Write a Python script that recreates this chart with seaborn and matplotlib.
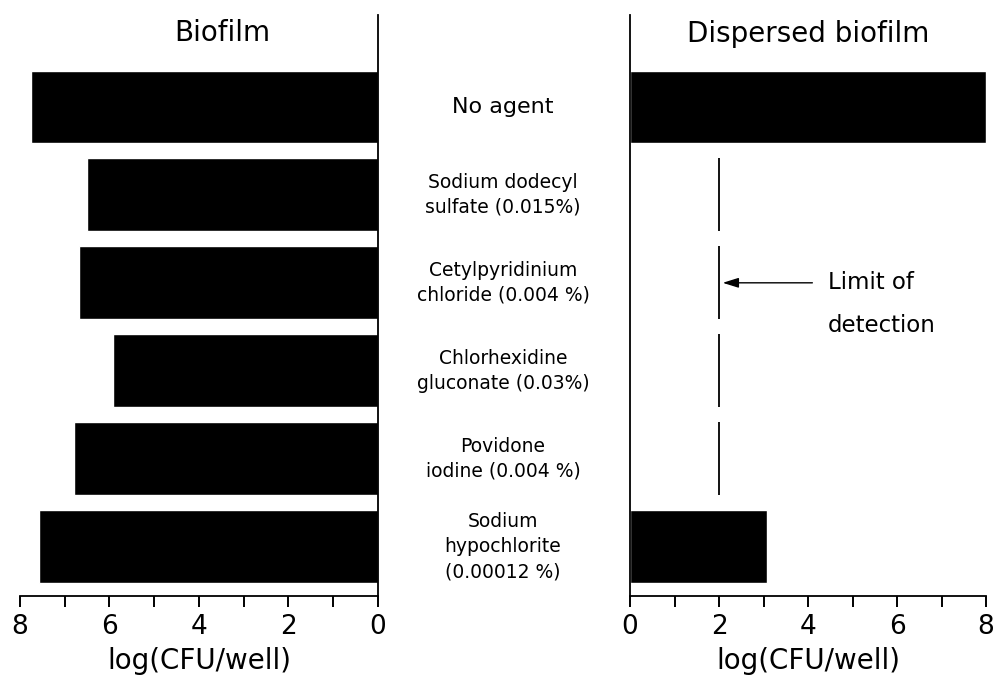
import matplotlib
matplotlib.use("Agg")
import matplotlib.pyplot as plt
import seaborn as sns
import numpy as np
import pandas as pd

agents = ["No agent",
          "Sodium dodecyl\nsulfate (0.015%)",
          "Cetylpyridinium\nchloride (0.004 %)",
          "Chlorhexidine\ngluconate (0.03%)",
          "Povidone\niodine (0.004 %)",
          "Sodium\nhypochlorite\n(0.00012 %)"]
biofilm = [7.75, 6.5, 6.68, 5.92, 6.8, 7.58]
dispersed = [8.0, 0.0, 0.0, 0.0, 0.0, 3.08]
detection_limit = [np.nan, 2.0, 2.0, 2.0, 2.0, np.nan]
xticks = [0, 2, 4, 6, 8]

sns.set_theme(style="white")
plt.rcParams['font.family'] = ['DejaVu Sans']
plt.rcParams['text.color'] = 'black'
plt.rcParams['axes.labelcolor'] = 'black'
plt.rcParams['xtick.color'] = 'black'

df = pd.DataFrame({"agent": agents, "biofilm": biofilm, "dispersed": dispersed})

fig = plt.figure(figsize=(9.98, 6.91), dpi=100)
ax1 = fig.add_axes([0.02, 0.1375, 0.3587, 0.8408])
ax2 = fig.add_axes([0.6313, 0.1375, 0.3567, 0.8408])

sns.barplot(data=df, y="agent", x="biofilm", orient="h", color="black",
            width=0.83, ax=ax1, saturation=1)
sns.barplot(data=df, y="agent", x="dispersed", orient="h", color="black",
            width=0.83, ax=ax2, saturation=1)

ylim = (5.563, -1.047)
for ax in (ax1, ax2):
    ax.set_ylim(*ylim)
    ax.set_xticks(xticks)
    ax.set_xticks(range(0, 9), minor=True)
    ax.set_yticks([])
    ax.set_ylabel("")
    ax.set_xlabel("log(CFU/well)", fontsize=20, labelpad=5)
    ax.tick_params(axis="x", which="both", direction="out", length=8, width=1.4,
                   color="black", bottom=True, labelsize=19, labelcolor="black", pad=5)
    for s in ax.spines.values():
        s.set_color("black")
        s.set_linewidth(1.3)

ax1.set_xlim(8, 0)
ax1.spines["left"].set_visible(False)
ax1.spines["top"].set_visible(False)
ax2.set_xlim(0, 8)
ax2.spines["right"].set_visible(False)
ax2.spines["top"].set_visible(False)

# limit of detection segments
for i, v in enumerate(detection_limit):
    if not np.isnan(v):
        ax2.vlines(v, i - 0.415, i + 0.415, color="black", lw=1.3)

ax2.annotate("", xy=(2.02, 2.0), xytext=(4.16, 2.0),
             arrowprops=dict(arrowstyle="-|>,head_length=0.8,head_width=0.25",
                             color="black", lw=1.0))
ax2.text(4.45, 2.0, "Limit of", fontsize=16.5, ha="left", va="center", color="black")
ax2.text(4.45, 2.49, "detection", fontsize=16.5, ha="left", va="center", color="black")

# middle labels
trans = matplotlib.transforms.blended_transform_factory(fig.transFigure, ax1.transData)
for i, lab in enumerate(agents):
    fs = 16 if i == 0 else 13.5
    ax1.text(0.504, i, lab, transform=trans, ha="center", va="center",
             fontsize=fs, linespacing=1.4, color="black")

fig.text(0.223, 1 - 41 / 691, "Biofilm", fontsize=20, ha="center", va="baseline", color="black")
fig.text(0.81, 1 - 42 / 691, "Dispersed biofilm", fontsize=20, ha="center", va="baseline", color="black")

fig.savefig("out.png", dpi=100)
